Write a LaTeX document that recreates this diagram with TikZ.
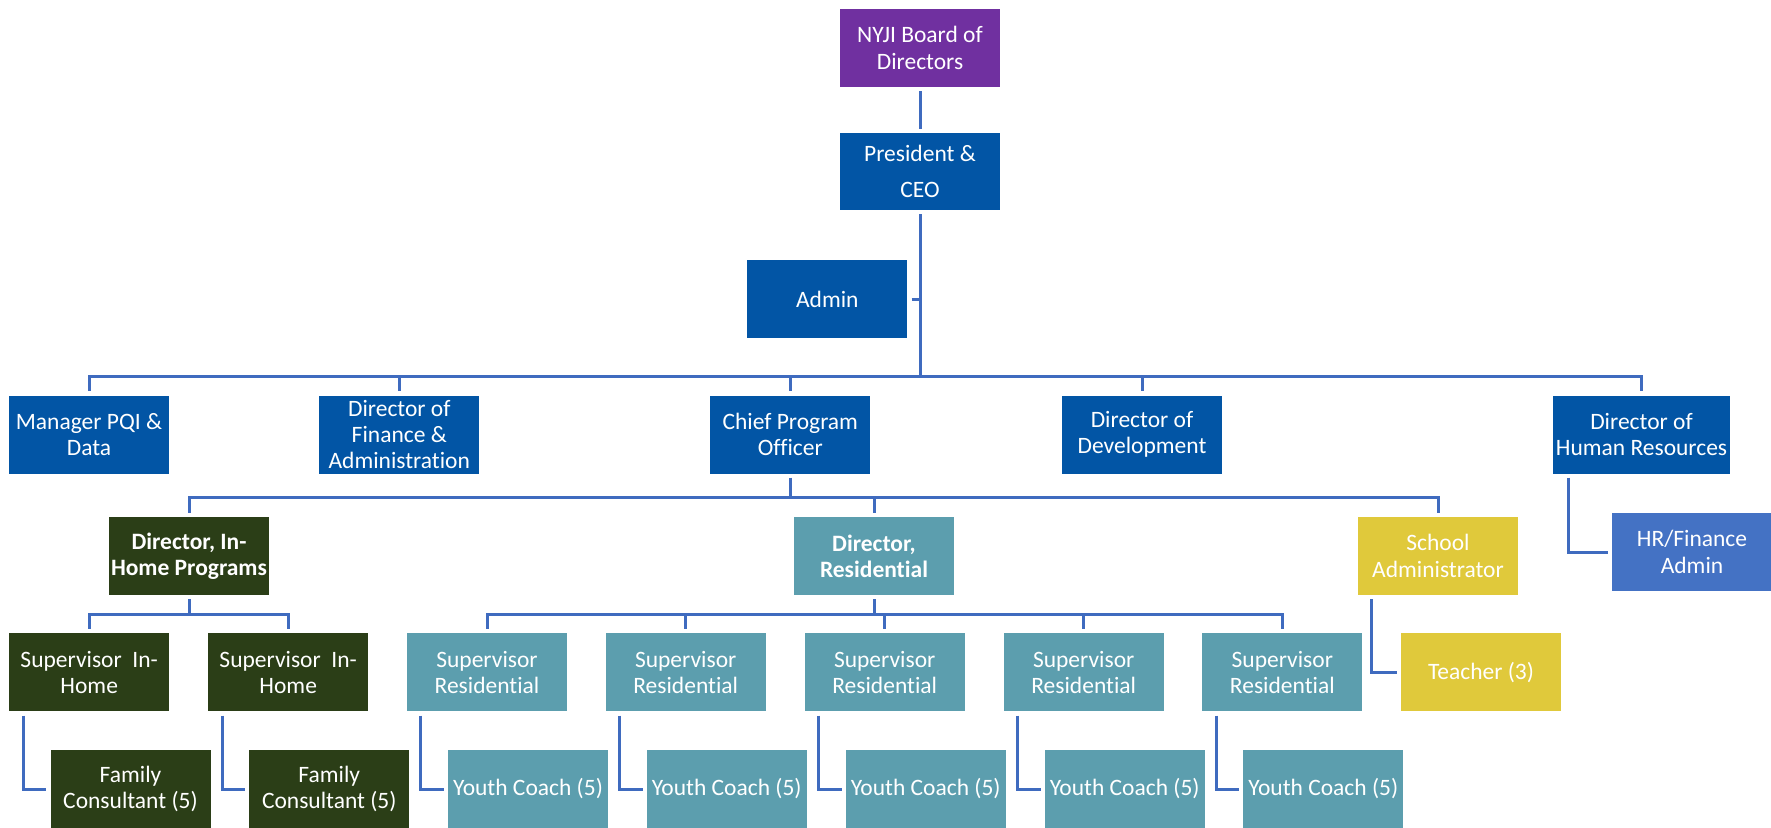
\documentclass[tikz,border=0pt]{standalone}
\usepackage{fontspec}
\setmainfont{Carlito}[Ligatures=NoCommon]
\definecolor{boardpurple}{HTML}{7030A0}
\definecolor{navy}{HTML}{0255A5}
\definecolor{forest}{HTML}{2B3E17}
\definecolor{teal}{HTML}{5C9EAE}
\definecolor{mustard}{HTML}{E0C93B}
\definecolor{lightnavy}{HTML}{4472C4}
\definecolor{wire}{HTML}{3F6BBF}
\tikzset{
  box/.style={rectangle,minimum width=160pt,minimum height=78pt,inner sep=0pt,
    align=center,text=white,font=\fontsize{23.5}{26.3}\selectfont},
  link/.style={draw=wire,line width=3pt,shorten <=4pt,shorten >=4pt},
  feed/.style={draw=wire,line width=3pt,shorten <=4pt},
  drop/.style={draw=wire,line width=3pt,shorten >=4pt}
}
\begin{document}
\begin{tikzpicture}
  [x=1pt,y=-1pt]
  \useasboundingbox (0,0) rectangle (1771,827);
  % top
  \node (board)[box,fill=boardpurple] at (920,48) {NYJI Board of\\Directors};
  \node (ceo)[box,fill=navy,minimum height=77pt] at (920,171.4) {President \&\\[10pt]CEO};
  \node (admin)[box,fill=navy] at (827.3,299) {Admin};
  % second row
  \node (mgr)[box,fill=navy] at (89,434.5) {Manager PQI \&\\Data};
  \node (fin)[box,fill=navy] at (399.3,434.5) {Director of\\Finance \&\\Administration};
  \node (cpo)[box,fill=navy] at (790.3,434.5) {Chief Program\\Officer};
  \node (dev)[box,fill=navy] at (1142,434.5) {Director of\\Development};
  \node (hr)[box,fill=navy,minimum width=177pt] at (1641.5,434.5) {Director of\\Human Resources};
  \node (hrfa)[box,fill=lightnavy] at (1692,552) {HR/Finance\\Admin};
  % third row
  \node (dinh)[box,fill=forest,font=\fontsize{23.5}{26.3}\selectfont\bfseries] at (189,556) {Director, In-\\Home Programs};
  \node (dres)[box,fill=teal,font=\fontsize{23.5}{26.3}\selectfont\bfseries] at (874,556) {Director,\\Residential};
  \node (sadm)[box,fill=mustard] at (1438,556) {School\\Administrator};
  % supervisors
  \node (sih1)[box,fill=forest] at (89.2,672.3) {Supervisor~~In-\\Home};
  \node (sih2)[box,fill=forest] at (288.2,672.3) {Supervisor~~In-\\Home};
  \foreach \i/\x in {1/487,2/685.7,3/884.7,4/1083.7,5/1282.3}
    \node (sres\i)[box,fill=teal] at (\x,672.3) {Supervisor\\Residential};
  \node (teach)[box,fill=mustard] at (1481,672.3) {Teacher (3)};
  % bottom row
  \node (fc1)[box,fill=forest] at (130.5,789) {Family\\Consultant (5)};
  \node (fc2)[box,fill=forest] at (329.3,789) {Family\\Consultant (5)};
  \foreach \i/\x in {1/528,2/726.7,3/925.7,4/1124.7,5/1323.3}
    \node (yc\i)[box,fill=teal] at (\x,789) {Youth Coach (5)};
  % connectors
  \draw[link] (board) -- (ceo);
  \coordinate (bus1) at (920,376);
  \draw[feed] (ceo.south) -- (bus1);
  \draw[feed] (admin.east) -- (ceo.south |- admin.east);
  \foreach \to in {mgr,fin,cpo,dev,hr}
    \draw[drop] (bus1) -| (\to.north);
  \coordinate (bus2) at (790.3,497);
  \draw[feed] (cpo.south) -- (bus2);
  \foreach \to in {dinh,dres,sadm}
    \draw[drop] (bus2) -| (\to.north);
  \coordinate (bus3) at (189,614);
  \draw[feed] (dinh.south) -- (bus3);
  \foreach \to in {sih1,sih2}
    \draw[drop] (bus3) -| (\to.north);
  \coordinate (bus4) at (874,614);
  \draw[feed] (dres.south) -- (bus4);
  \foreach \i in {1,...,5}
    \draw[drop] (bus4) -| (sres\i.north);
  \draw[link] ([xshift=14pt]sih1.south west) |- (fc1.west);
  \draw[link] ([xshift=14pt]sih2.south west) |- (fc2.west);
  \foreach \i in {1,...,5}
    \draw[link] ([xshift=14pt]sres\i.south west) |- (yc\i.west);
  \draw[link] ([xshift=14pt]sadm.south west) |- (teach.west);
  \draw[link] ([xshift=16pt]hr.south west) |- (hrfa.west);
\end{tikzpicture}
\end{document}
